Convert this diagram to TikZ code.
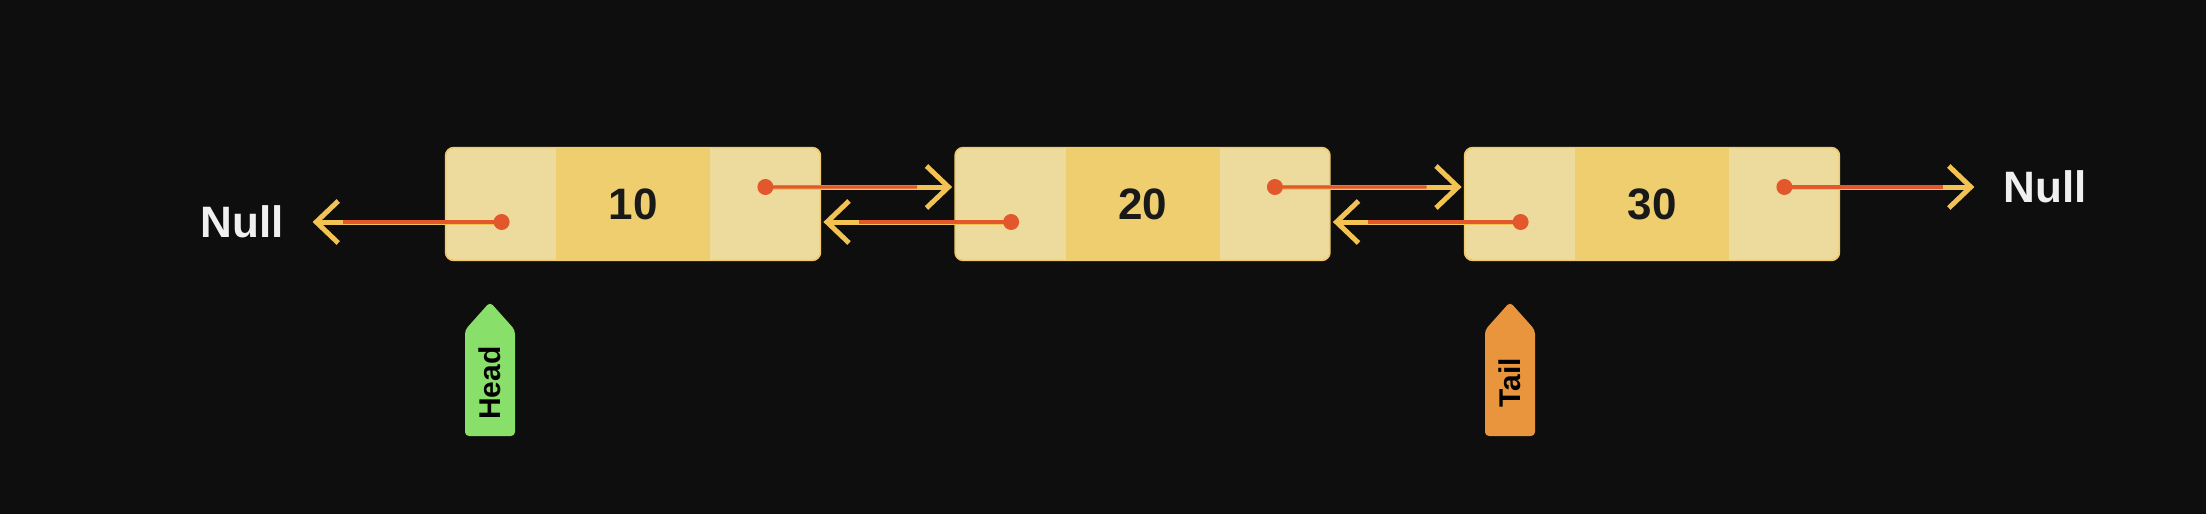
\documentclass[tikz,border=0pt]{standalone}
\usepackage{fontspec}
\setmainfont{Liberation Sans}
\usetikzlibrary{arrows.meta,calc}
\definecolor{bg}{HTML}{0E0E0E}
\definecolor{cellL}{HTML}{EDDB9D}
\definecolor{cellM}{HTML}{EFCE6F}
\definecolor{rim}{HTML}{F2CC6A}
\definecolor{ptr}{HTML}{E2572B}
\definecolor{tipc}{HTML}{F2C253}
\definecolor{headc}{HTML}{88E06B}
\definecolor{tailc}{HTML}{E8953D}
\begin{document}
\begin{tikzpicture}[x=0.5pt,y=-0.5pt,
  nodebox/.style={fill=cellL, rounded corners=4pt, minimum width=187pt, minimum height=56pt, inner sep=0pt},
  rimline/.style={draw=rim, line width=0.8pt, rounded corners=4pt},
  val/.style={font=\fontsize{22}{24}\selectfont\bfseries, text=black!90},
  nulltxt/.style={font=\fontsize{22}{24}\selectfont\bfseries, text=white!94!black},
  dotc/.style={circle, fill=ptr, inner sep=0pt, minimum size=8pt},
  ptrbase/.style={draw=tipc, line width=2.5pt, -{Straight Barb[length=11pt,width=21pt]}},
  ptrcore/.style={draw=ptr, line width=1.7pt},
  tagtxt/.style={rotate=90, font=\fontsize{15}{17}\selectfont\bfseries, text=black}]
\fill[bg] (0,0) rectangle (2206,514);
\useasboundingbox (0,0) rectangle (2206,514);

% list nodes
\foreach \n/\x/\v in {n1/633/10, n2/1142.5/20, n3/1652/30}{
  \node[nodebox] (\n) at (\x,204) {};
  \fill[cellM] ([xshift=-38.5pt,yshift=-0.4pt]\n.north) rectangle ([xshift=38.5pt,yshift=0.4pt]\n.south);
  \draw[rimline] (\n.south west) rectangle (\n.north east);
  \node[val] (\n v) at (\n) {\v};
  \coordinate (\n r) at ([xshift=-27.5pt,yshift=8.5pt]\n.east);
  \coordinate (\n l) at ([xshift=28pt,yshift=-9pt]\n.west);
}

% null labels
\node[nulltxt] (nullL) at (242,222) {Null};
\node[nulltxt] (nullR) at (2045,187) {Null};

% next pointers
\draw[ptrbase, shorten >=1.5pt] (n1r) -- (n1r -| n2.west);
\draw[ptrcore] (n1r) -- ($(n1r)!0.8!(n1r -| n2.west)$);
\draw[ptrbase, shorten >=1.5pt] (n2r) -- (n2r -| n3.west);
\draw[ptrcore] (n2r) -- ($(n2r)!0.8!(n2r -| n3.west)$);
\draw[ptrbase, shorten >=11pt] (n3r) -- (n3r -| nullR.west);
\draw[ptrcore] (n3r) -- ($(n3r)!0.75!(n3r -| nullR.west)$);

% prev pointers
\draw[ptrbase, shorten >=1.5pt] (n2l) -- (n2l -| n1.east);
\draw[ptrcore] (n2l) -- ($(n2l)!0.8!(n2l -| n1.east)$);
\draw[ptrbase, shorten >=1.5pt] (n3l) -- (n3l -| n2.east);
\draw[ptrcore] (n3l) -- ($(n3l)!0.8!(n3l -| n2.east)$);
\draw[ptrbase, shorten >=11pt] (n1l) -- (n1l -| nullL.east);
\draw[ptrcore] (n1l) -- ($(n1l)!0.75!(n1l -| nullL.east)$);

% dots
\foreach \p in {n1r,n1l,n2r,n2l,n3r,n3l}{
  \node[dotc] (\p dot) at (\p) {};
}

% head / tail tags
\fill[headc, rounded corners=2pt] (465,330) -- (490,302) -- (515,330) -- (515,436) -- (465,436) -- cycle;
\node[tagtxt] (headlbl) at (490,383) {Head};
\fill[tailc, rounded corners=2pt] (1485,330) -- (1510,302) -- (1535,330) -- (1535,436) -- (1485,436) -- cycle;
\node[tagtxt] (taillbl) at (1510,383) {Tail};
\end{tikzpicture}
\end{document}
